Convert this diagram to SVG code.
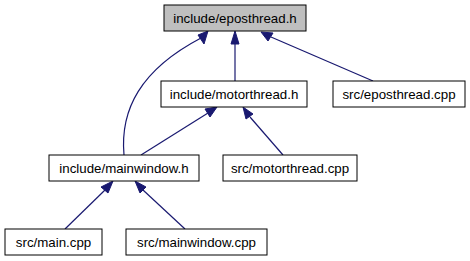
<svg xmlns="http://www.w3.org/2000/svg" width="470" height="261" viewBox="0 0 470 261">
  <style>
    .node rect { fill: #ffffff; stroke: #000000; stroke-width: 1; }
    .node.root rect { fill: #bfbfbf; }
    .node text { font-family: "Liberation Sans", Arial, sans-serif; font-size: 13.3px; fill: #000000; text-anchor: middle; }
    .edge { fill: none; stroke: #191970; stroke-width: 1.2; }
    .head { fill: #191970; stroke: #191970; stroke-width: 1; }
  </style>
  <rect width="470" height="261" fill="#ffffff"/>

  <g id="edges">
    <!-- mainwindow.h -> eposthread.h -->
    <path class="edge" d="M124,155 C120,110 140,70 201,38"/>
    <polygon class="head" points="208,31 198,35 204,44"/>
    <!-- motorthread.h -> eposthread.h -->
    <path class="edge" d="M235,81 L235,43"/>
    <polygon class="head" points="235,31 231,44 239,44"/>
    <!-- src/eposthread.cpp -> eposthread.h -->
    <path class="edge" d="M373,81 L271,37"/>
    <polygon class="head" points="261,32 268,41 273,33"/>
    <!-- mainwindow.h -> motorthread.h -->
    <path class="edge" d="M141,155 L208,113"/>
    <polygon class="head" points="217,107 205,109 210,117"/>
    <!-- src/motorthread.cpp -> motorthread.h -->
    <path class="edge" d="M283,155 L250,117"/>
    <polygon class="head" points="243,107 246,119 253,114"/>
    <!-- src/main.cpp -> mainwindow.h -->
    <path class="edge" d="M65,229 L105,190"/>
    <polygon class="head" points="113,181 101,187 108,193"/>
    <!-- src/mainwindow.cpp -> mainwindow.h -->
    <path class="edge" d="M185,229 L143,190"/>
    <polygon class="head" points="135,181 140,193 146,187"/>
  </g>

  <g id="node-eposthread-h" class="node root">
    <rect x="164" y="5" width="142" height="26"/>
    <text x="235" y="23">include/eposthread.h</text>
  </g>
  <g id="node-motorthread-h" class="node">
    <rect x="161" y="81" width="146" height="26"/>
    <text x="234" y="99">include/motorthread.h</text>
  </g>
  <g id="node-eposthread-cpp" class="node">
    <rect x="333" y="81" width="132" height="26"/>
    <text x="399" y="99">src/eposthread.cpp</text>
  </g>
  <g id="node-mainwindow-h" class="node">
    <rect x="49" y="155" width="150" height="26"/>
    <text x="124" y="173">include/mainwindow.h</text>
  </g>
  <g id="node-motorthread-cpp" class="node">
    <rect x="223" y="155" width="134" height="26"/>
    <text x="290" y="173">src/motorthread.cpp</text>
  </g>
  <g id="node-main-cpp" class="node">
    <rect x="5" y="229" width="97" height="26"/>
    <text x="53.5" y="247">src/main.cpp</text>
  </g>
  <g id="node-mainwindow-cpp" class="node">
    <rect x="126" y="229" width="141" height="26"/>
    <text x="196.5" y="247">src/mainwindow.cpp</text>
  </g>
</svg>
